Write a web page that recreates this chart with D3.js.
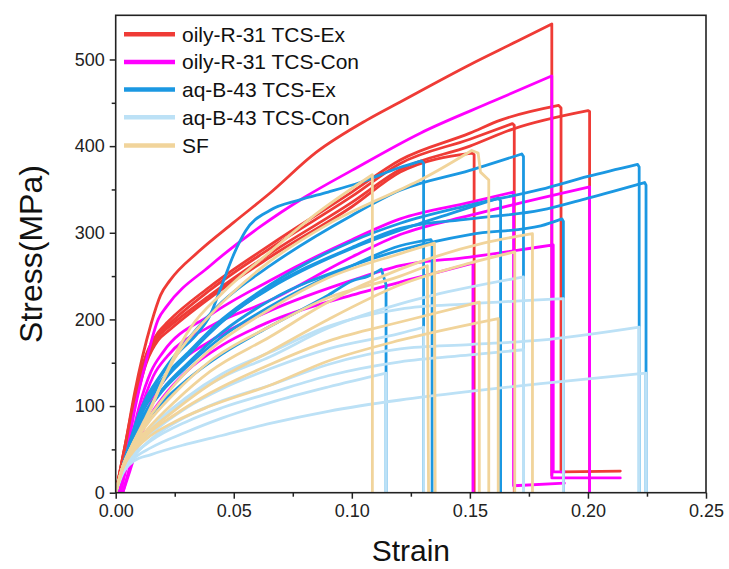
<!DOCTYPE html>
<html><head><meta charset="utf-8">
<script src="https://cdn.jsdelivr.net/npm/d3@7"></script>
<style>
html,body{margin:0;padding:0;background:#fff;}
svg{display:block;font-family:"Liberation Sans",Arial,sans-serif;}
</style></head>
<body><svg id="chart" width="729" height="569"></svg>
<script>
// ---- series names / colours ----
const seriesNames = ["oily-R-31 TCS-Ex","oily-R-31 TCS-Con","aq-B-43 TCS-Ex","aq-B-43 TCS-Con","SF"];
const seriesColors = ["#EF3B36","#FF00FF","#1B98E2","#BCE1F6","#F1D49B"];

// ---- axis ticks ----
const xMajorTicks = [0,0.05,0.10,0.15,0.20,0.25];
const xMinorTicks = [0.025,0.075,0.125,0.175,0.225];
const yMajorTicks = [0,100,200,300,400,500];
const yMinorTicks = [50,150,250,350,450];

// ---- data: each curve = rising part [strain, stress] + tail after fracture ----
const redCurves = [
 {rise:[[0,0],[0.004,55],[0.008,115],[0.015,195],[0.019,228],[0.023,245],[0.035,278],[0.05,312],[0.065,345],[0.085,393],[0.1063,430],[0.1205,451],[0.15,494],[0.17,521],[0.1847,541]], tail:[[0.1847,20]]},
 {rise:[[0,0],[0.004,55],[0.008,110],[0.013,160],[0.018,185],[0.022,197],[0.04,238],[0.0654,286],[0.1,347],[0.1205,384],[0.15,415],[0.163,430],[0.1876,447]], tail:[[0.1886,444],[0.1886,24],[0.2137,25]]},
 {rise:[[0,0],[0.004,52],[0.008,105],[0.013,155],[0.018,180],[0.022,190],[0.04,228],[0.0654,276],[0.1,335],[0.1205,373],[0.15,400],[0.1685,420],[0.2,441]], tail:[[0.2007,440],[0.2007,0]]},
 {rise:[[0,0],[0.004,53],[0.008,107],[0.013,158],[0.018,182],[0.022,193],[0.04,234],[0.0654,282],[0.1,342],[0.1205,380],[0.15,408],[0.168,426]], tail:[[0.1688,424],[0.1688,0]]},
 {rise:[[0,0],[0.004,50],[0.008,100],[0.013,150],[0.018,176],[0.022,186],[0.04,225],[0.0654,272],[0.1,330],[0.1205,370],[0.151,392]], tail:[[0.1518,390],[0.1518,0]]}
];
const magentaCurves = [
 {rise:[[0.001,0],[0.004,35],[0.008,95],[0.013,153],[0.018,200],[0.0216,215],[0.04,262],[0.0612,307],[0.08,341],[0.1,372],[0.129,415],[0.16,452],[0.1847,481]], tail:[[0.1847,17],[0.2137,17]]},
 {rise:[[0.002,0],[0.005,35],[0.01,90],[0.016,135],[0.022,158],[0.04,192],[0.0654,222],[0.1,272],[0.1205,298],[0.15,320],[0.18,340],[0.2007,353]], tail:[[0.2007,0]]},
 {rise:[[0.002,0],[0.005,40],[0.01,100],[0.015,140],[0.02,162],[0.04,205],[0.0654,245],[0.1,292],[0.1205,316],[0.15,335],[0.1685,347]], tail:[[0.1685,8],[0.19,11]]},
 {rise:[[0.003,0],[0.006,30],[0.011,80],[0.017,115],[0.025,145],[0.04,175],[0.0654,210],[0.1,245],[0.1205,262],[0.15,272],[0.1853,286]], tail:[[0.1853,24],[0.19,24]]},
 {rise:[[0.003,0],[0.006,25],[0.012,75],[0.02,110],[0.03,140],[0.045,170],[0.064,196],[0.1,228],[0.129,249],[0.1513,265]], tail:[[0.1513,0]]}
];
const blueCurves = [
 {rise:[[0,0],[0.004,40],[0.01,90],[0.018,130],[0.026,160],[0.035,185],[0.04,205],[0.045,240],[0.05,275],[0.055,302],[0.0654,326],[0.078,338],[0.09,347],[0.1035,358],[0.12,375],[0.1295,383]], tail:[[0.1304,380],[0.1304,0]]},
 {rise:[[0,0],[0.004,40],[0.01,92],[0.02,140],[0.03,175],[0.045,220],[0.0654,262],[0.1,320],[0.1205,349],[0.15,372],[0.172,391]], tail:[[0.1727,388],[0.1727,0]]},
 {rise:[[0,0],[0.004,38],[0.01,88],[0.02,132],[0.03,160],[0.045,200],[0.0654,240],[0.1,290],[0.1205,311],[0.15,332],[0.18,350],[0.2,365],[0.221,379]], tail:[[0.2217,376],[0.2217,0]]},
 {rise:[[0,0],[0.004,37],[0.01,85],[0.02,128],[0.03,157],[0.045,197],[0.0654,237],[0.1,283],[0.1205,305],[0.15,316],[0.18,326],[0.2,340],[0.224,358]], tail:[[0.2246,355],[0.2246,0]]},
 {rise:[[0,0],[0.004,35],[0.01,80],[0.02,120],[0.03,148],[0.045,185],[0.0654,222],[0.1,262],[0.1205,280],[0.15,298],[0.18,308],[0.189,316]], tail:[[0.1896,313],[0.1896,0]]},
 {rise:[[0,0],[0.004,37],[0.01,86],[0.02,130],[0.03,158],[0.045,198],[0.0654,236],[0.1,282],[0.1205,303],[0.145,325],[0.162,340]], tail:[[0.163,337],[0.163,0]]},
 {rise:[[0,0],[0.004,35],[0.01,78],[0.02,118],[0.03,145],[0.045,180],[0.0654,215],[0.1,262],[0.1205,285],[0.1335,292]], tail:[[0.134,289],[0.134,0]]},
 {rise:[[0,0],[0.004,33],[0.01,70],[0.02,105],[0.03,130],[0.045,160],[0.0654,192],[0.09,228],[0.1006,245],[0.107,250],[0.1125,258]], tail:[[0.1145,240],[0.1145,0]]}
];
const lightBlueCurves = [
 {rise:[[0,0],[0.003,25],[0.007,40],[0.015,62],[0.03,88],[0.045,106],[0.0654,124],[0.09,148],[0.1205,166],[0.15,171],[0.18,176],[0.2217,191]], tail:[[0.2217,0]]},
 {rise:[[0,0],[0.003,22],[0.0074,36],[0.015,44],[0.03,56],[0.045,66],[0.0654,80],[0.09,94],[0.1205,107],[0.15,117],[0.18,126],[0.2246,138]], tail:[[0.2246,0]]},
 {rise:[[0,0],[0.003,28],[0.007,48],[0.015,75],[0.03,110],[0.045,137],[0.0654,162],[0.09,192],[0.1205,212],[0.15,218],[0.1896,224]], tail:[[0.1896,0]]},
 {rise:[[0,0],[0.003,27],[0.007,45],[0.015,68],[0.03,98],[0.045,120],[0.0654,143],[0.09,166],[0.1205,184],[0.1304,191]], tail:[[0.1304,0]]},
 {rise:[[0,0],[0.003,28],[0.007,48],[0.015,74],[0.03,108],[0.045,133],[0.0654,157],[0.09,190],[0.1205,218],[0.1346,228],[0.1727,249]], tail:[[0.1727,0]]},
 {rise:[[0,0],[0.003,25],[0.007,38],[0.015,52],[0.03,70],[0.045,86],[0.0654,104],[0.09,122],[0.1145,138]], tail:[[0.1145,0]]},
 {rise:[[0,0],[0.003,26],[0.007,42],[0.015,60],[0.03,82],[0.045,98],[0.0654,115],[0.09,135],[0.1205,151],[0.15,159],[0.1727,165]], tail:[[0.1727,0]]}
];
const sfCurves = [
 {rise:[[0,0],[0.003,30],[0.007,55],[0.013,85],[0.02,130],[0.0316,190],[0.045,230],[0.0654,278],[0.085,322],[0.1087,367]], tail:[[0.1087,0]]},
 {rise:[[0,0],[0.003,30],[0.007,55],[0.013,88],[0.025,155],[0.04,205],[0.061,258],[0.09,310],[0.1205,350],[0.129,361],[0.1508,395]], tail:[[0.1535,392],[0.1545,370],[0.158,361],[0.158,0]]},
 {rise:[[0,0],[0.003,30],[0.007,52],[0.013,72],[0.025,105],[0.04,140],[0.0654,180],[0.09,220],[0.1205,258],[0.1557,288],[0.1765,299]], tail:[[0.1765,0]]},
 {rise:[[0,0],[0.003,30],[0.007,55],[0.013,82],[0.025,125],[0.04,165],[0.0654,212],[0.09,248],[0.1205,276],[0.135,288]], tail:[[0.1353,0]]},
 {rise:[[0,0],[0.003,30],[0.007,53],[0.013,78],[0.025,115],[0.04,152],[0.0654,192],[0.09,225],[0.1205,250],[0.132,262]], tail:[[0.1325,0]]},
 {rise:[[0,0],[0.003,28],[0.007,48],[0.013,66],[0.025,90],[0.04,115],[0.0654,148],[0.09,175],[0.1205,197],[0.154,220]], tail:[[0.154,0]]},
 {rise:[[0,0],[0.003,28],[0.007,46],[0.013,62],[0.025,82],[0.04,100],[0.0654,124],[0.09,152],[0.1205,176],[0.162,201]], tail:[[0.162,0]]},
 {rise:[[0,0],[0.003,30],[0.007,50],[0.013,68],[0.025,95],[0.04,125],[0.0654,163],[0.09,200],[0.1205,240],[0.15,265],[0.169,278]], tail:[[0.169,0]]}
];
const groups = [redCurves, magentaCurves, blueCurves, lightBlueCurves, sfCurves];

// ---- layout ----
const svg = d3.select("#chart");
const X0 = 115.7, X1 = 706, Y0 = 492.7, Y1 = 15.3;
const x = d3.scaleLinear().domain([0,0.25]).range([X0,X1]);
const y = d3.scaleLinear().domain([0,551]).range([Y0,Y1]);
const font = "'Liberation Sans',Arial,sans-serif";

svg.append("defs").append("clipPath").attr("id","clip")
  .append("rect").attr("x",X0).attr("y",Y1).attr("width",X1-X0).attr("height",Y0-Y1);

const smooth = d3.line().x(d=>x(d[0])).y(d=>y(d[1])).curve(d3.curveMonotoneX);
const straight = d3.line().x(d=>x(d[0])).y(d=>y(d[1]));

const plot = svg.append("g").attr("clip-path","url(#clip)");
groups.forEach((g,gi)=>{
  const gg = plot.append("g");
  g.forEach(c=>{
    const last = c.rise[c.rise.length-1];
    const d = smooth(c.rise) + straight([last].concat(c.tail)).replace(/^M[^L]*/,"");
    gg.append("path").attr("d",d).attr("fill","none")
      .attr("stroke",seriesColors[gi]).attr("stroke-width",2.8)
      .attr("stroke-linejoin","round").attr("stroke-linecap","round");
  });
});

// ---- axes ----
const axisColor = "#222";
const gx = svg.append("g").attr("transform",`translate(0,${Y0})`)
  .call(d3.axisBottom(x).tickValues(xMajorTicks).tickSize(6).tickPadding(6).tickFormat(d3.format(".2f")));
const gxm = svg.append("g").attr("transform",`translate(0,${Y0})`)
  .call(d3.axisBottom(x).tickValues(xMinorTicks).tickSize(4).tickFormat(""));
const gy = svg.append("g").attr("transform",`translate(${X0},0)`)
  .call(d3.axisLeft(y).tickValues(yMajorTicks).tickSize(6).tickPadding(5).tickFormat(d3.format("d")));
const gym = svg.append("g").attr("transform",`translate(${X0},0)`)
  .call(d3.axisLeft(y).tickValues(yMinorTicks).tickSize(4).tickFormat(""));
[gx,gxm,gy,gym].forEach(a=>{
  a.select(".domain").remove();
  a.selectAll("line").attr("stroke",axisColor).attr("stroke-width",1.5);
  a.selectAll("text").attr("fill","#222").style("font-family",font).style("font-size","18px");
});
svg.append("rect").attr("x",X0).attr("y",Y1).attr("width",X1-X0).attr("height",Y0-Y1)
  .attr("fill","none").attr("stroke",axisColor).attr("stroke-width",1.6);

// axis titles
svg.append("text").attr("x",(X0+X1)/2).attr("y",561).attr("text-anchor","middle")
  .style("font-family",font).style("font-size","30px").attr("fill","#111").text("Strain");
svg.append("text").attr("transform",`translate(42,${(Y0+Y1)/2}) rotate(-90)`).attr("text-anchor","middle")
  .style("font-family",font).style("font-size","32px").attr("fill","#111").text("Stress(MPa)");

// ---- legend ----
const legY = [34.3, 61.9, 89.5, 117.3, 145.5];
const leg = svg.append("g");
seriesNames.forEach((n,i)=>{
  leg.append("line").attr("x1",124).attr("x2",175).attr("y1",legY[i]).attr("y2",legY[i])
    .attr("stroke",seriesColors[i]).attr("stroke-width",4.5);
  leg.append("text").attr("x",182).attr("y",legY[i]).attr("dy","0.35em")
    .style("font-family",font).style("font-size","21px").attr("fill","#111").text(n);
});
</script>
</body></html>
